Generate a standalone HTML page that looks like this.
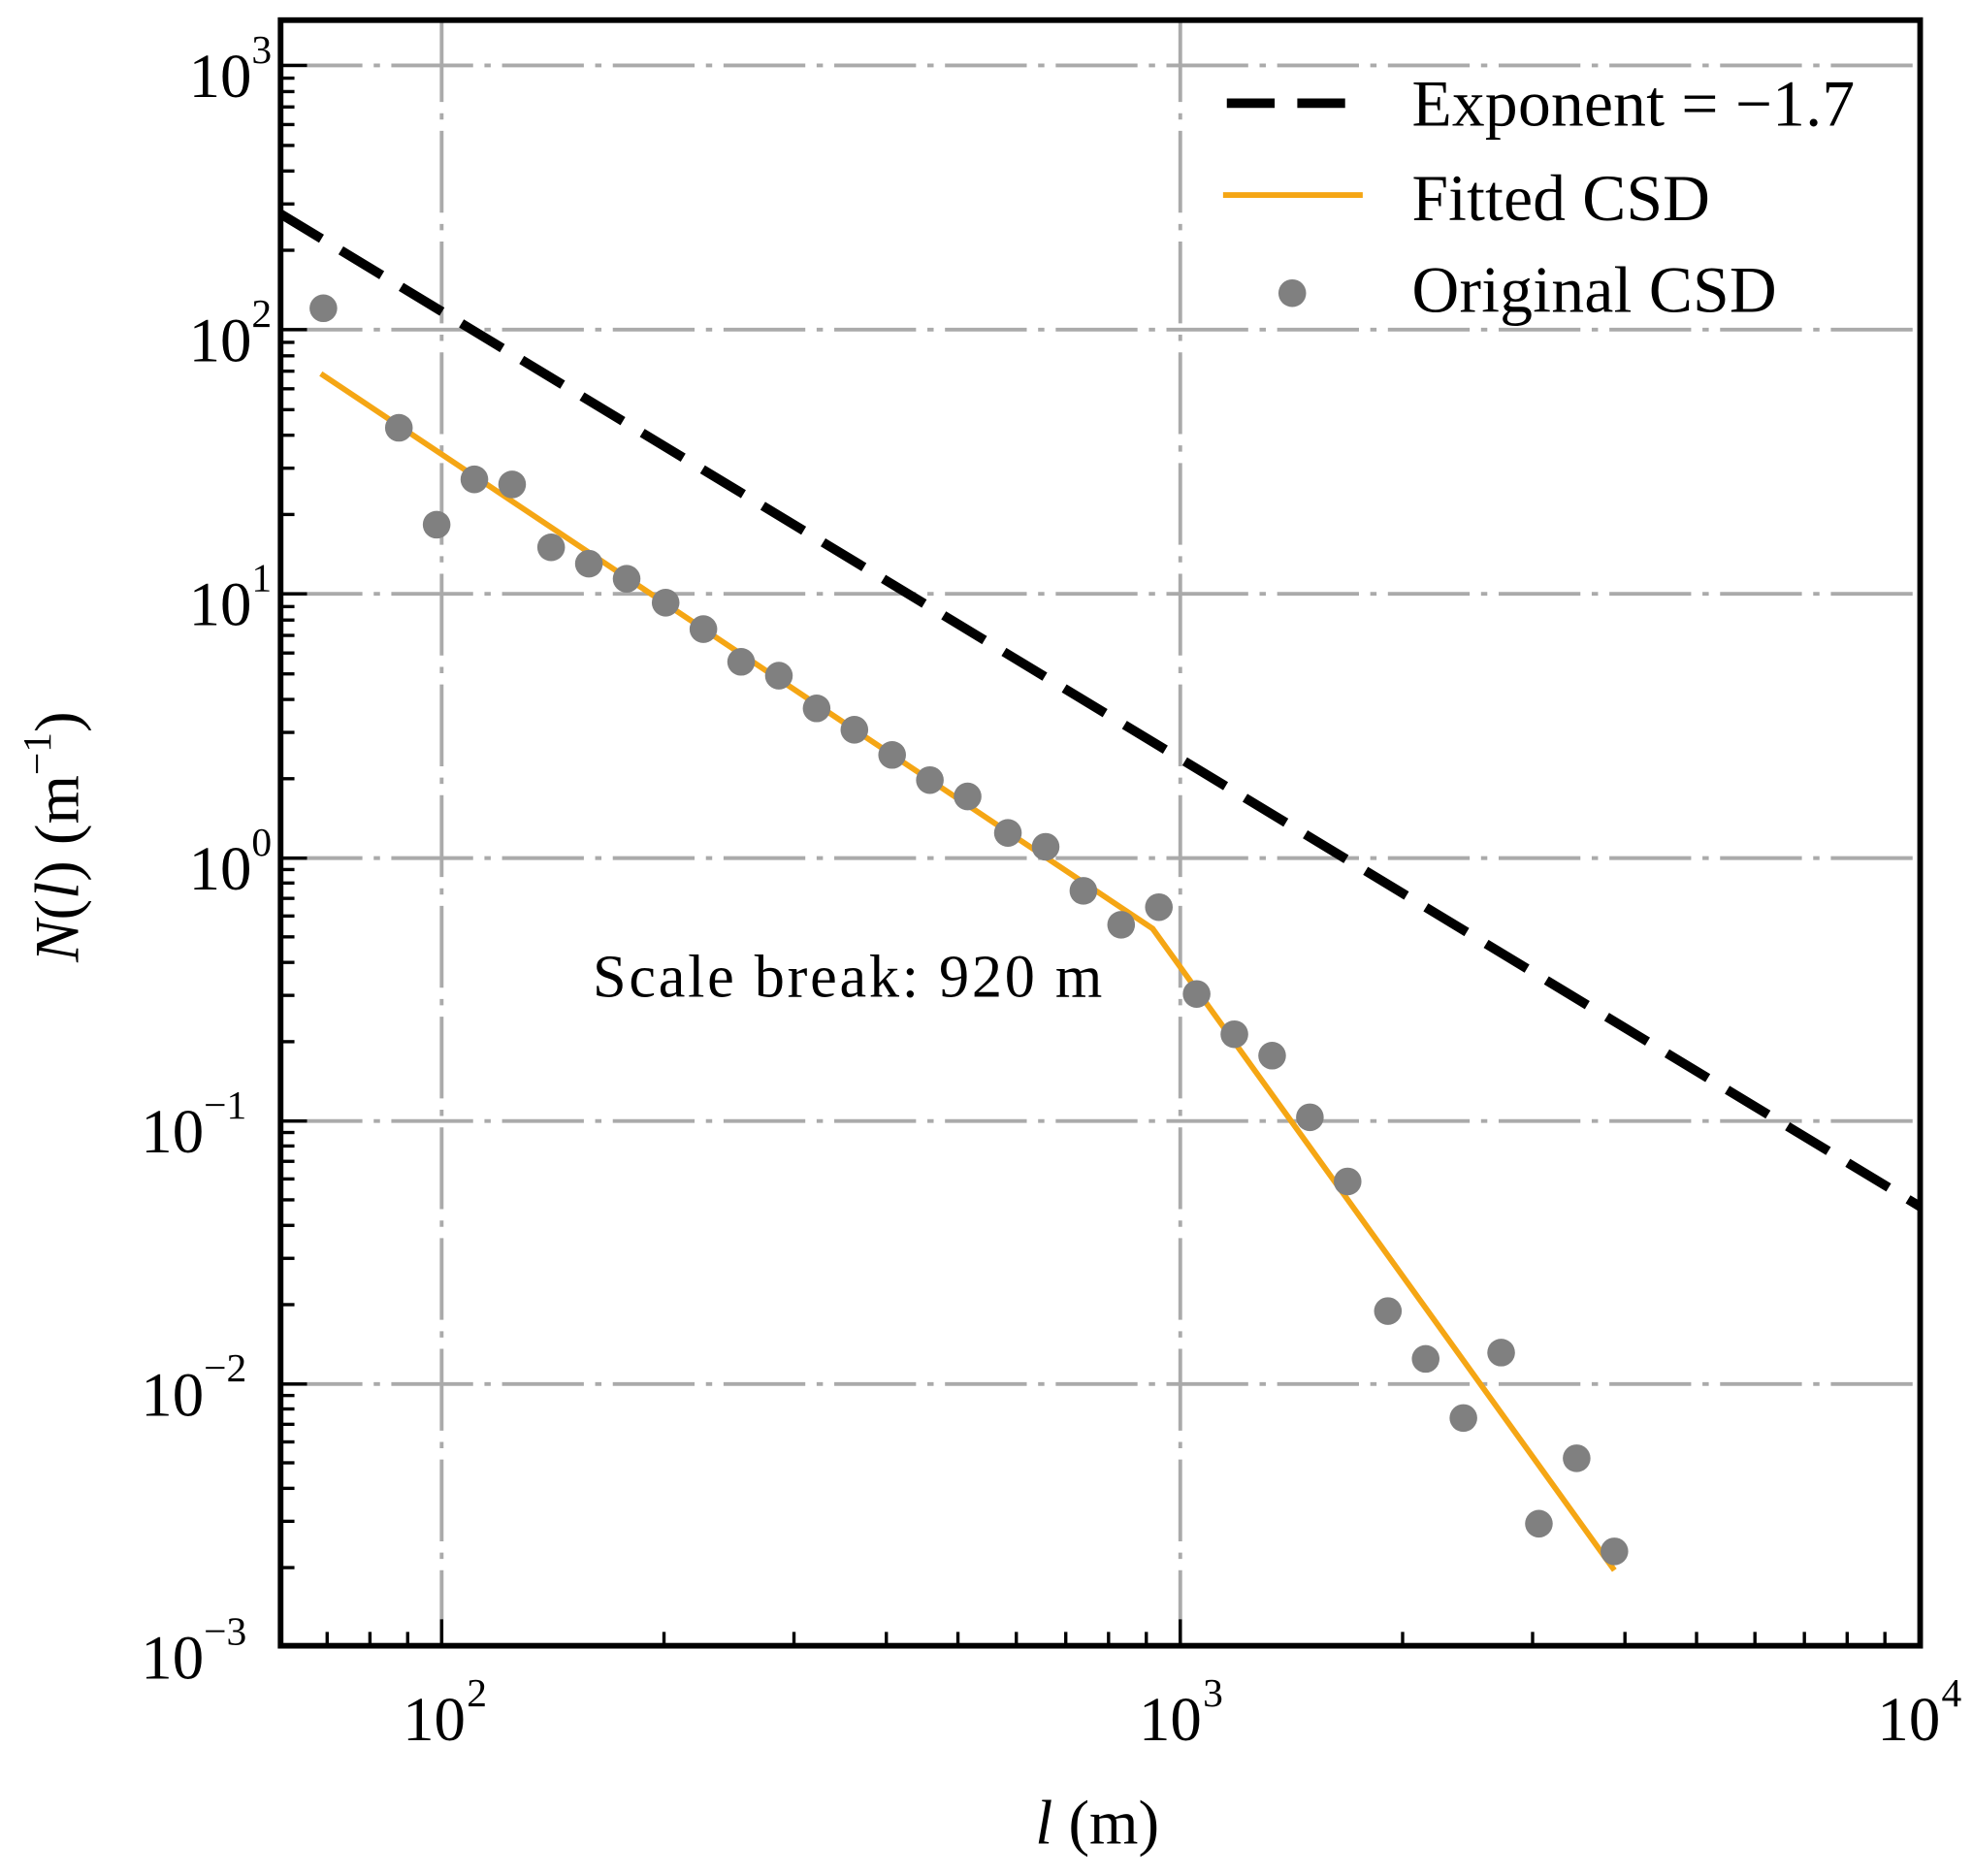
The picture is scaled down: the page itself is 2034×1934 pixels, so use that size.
<!DOCTYPE html>
<html><head><meta charset="utf-8"><style>html,body{margin:0;padding:0;background:#fff}svg{display:block}</style></head>
<body>
<svg width="2034" height="1934" viewBox="0 0 1568 1491" preserveAspectRatio="none" xmlns="http://www.w3.org/2000/svg" font-family="Liberation Serif, serif">
<defs>
<g id="ym" stroke="#000" stroke-width="2.6">
<line x1="223" y1="-63.1" x2="234" y2="-63.1"/><line x1="223" y1="-99.9" x2="234" y2="-99.9"/><line x1="223" y1="-126.1" x2="234" y2="-126.1"/><line x1="223" y1="-146.4" x2="234" y2="-146.4"/><line x1="223" y1="-163" x2="234" y2="-163"/><line x1="223" y1="-177" x2="234" y2="-177"/><line x1="223" y1="-189.2" x2="234" y2="-189.2"/><line x1="223" y1="-199.9" x2="234" y2="-199.9"/>
</g>
<g id="xm" stroke="#000" stroke-width="2.6">
<line x1="176.7" y1="1308" x2="176.7" y2="1297"/><line x1="280" y1="1308" x2="280" y2="1297"/><line x1="353.4" y1="1308" x2="353.4" y2="1297"/><line x1="410.3" y1="1308" x2="410.3" y2="1297"/><line x1="456.7" y1="1308" x2="456.7" y2="1297"/><line x1="496" y1="1308" x2="496" y2="1297"/><line x1="530" y1="1308" x2="530" y2="1297"/><line x1="560" y1="1308" x2="560" y2="1297"/>
</g>
</defs>
<g stroke="#aaaaaa" stroke-width="3" stroke-dasharray="65 9 5 9" fill="none">
<line x1="351" y1="16" x2="351" y2="1308"/>
<line x1="938" y1="16" x2="938" y2="1308"/>
<line x1="223" y1="52" x2="1526" y2="52"/>
<line x1="223" y1="262" x2="1526" y2="262"/>
<line x1="223" y1="472" x2="1526" y2="472"/>
<line x1="223" y1="682" x2="1526" y2="682"/>
<line x1="223" y1="891" x2="1526" y2="891"/>
<line x1="223" y1="1100" x2="1526" y2="1100"/>
</g>
<use href="#ym" transform="translate(0,1309)"/><use href="#ym" transform="translate(0,1100)"/><use href="#ym" transform="translate(0,891)"/><use href="#ym" transform="translate(0,682)"/><use href="#ym" transform="translate(0,472)"/><use href="#ym" transform="translate(0,262)"/>
<use href="#xm" transform="translate(351,0)"/><use href="#xm" transform="translate(938,0)"/>
<g stroke="#000" stroke-width="2.6">
<line x1="260" y1="1308" x2="260" y2="1297"/><line x1="294" y1="1308" x2="294" y2="1297"/><line x1="324" y1="1308" x2="324" y2="1297"/>
<line x1="351" y1="1308" x2="351" y2="1287"/><line x1="938" y1="1308" x2="938" y2="1287"/>
<line x1="223" y1="52" x2="244" y2="52"/><line x1="223" y1="262" x2="244" y2="262"/><line x1="223" y1="472" x2="244" y2="472"/><line x1="223" y1="682" x2="244" y2="682"/><line x1="223" y1="891" x2="244" y2="891"/><line x1="223" y1="1100" x2="244" y2="1100"/>
</g>
<line x1="223" y1="170" x2="1526" y2="959" stroke="#000" stroke-width="7.5" stroke-dasharray="38 18"/>
<polyline points="255,297 916,738 1283,1248" stroke="#f5a614" stroke-width="4.5" fill="none"/>
<g fill="#808080">
<circle cx="257" cy="245" r="11"/><circle cx="317" cy="340" r="11"/><circle cx="347" cy="417" r="11"/><circle cx="377" cy="381" r="11"/><circle cx="407" cy="385" r="11"/><circle cx="438" cy="435" r="11"/><circle cx="468" cy="448" r="11"/><circle cx="498" cy="460" r="11"/><circle cx="529" cy="479" r="11"/><circle cx="559" cy="500" r="11"/><circle cx="589" cy="526" r="11"/><circle cx="619" cy="537" r="11"/><circle cx="649" cy="563" r="11"/><circle cx="679" cy="580" r="11"/><circle cx="709" cy="600" r="11"/><circle cx="739" cy="620" r="11"/><circle cx="769" cy="633" r="11"/><circle cx="801" cy="662" r="11"/><circle cx="831" cy="673" r="11"/><circle cx="861" cy="708" r="11"/><circle cx="891" cy="735" r="11"/><circle cx="921" cy="721" r="11"/><circle cx="951" cy="790" r="11"/><circle cx="981" cy="822" r="11"/><circle cx="1011" cy="839" r="11"/><circle cx="1041" cy="888" r="11"/><circle cx="1071" cy="939" r="11"/><circle cx="1103" cy="1042" r="11"/><circle cx="1133" cy="1080" r="11"/><circle cx="1163" cy="1127" r="11"/><circle cx="1193" cy="1075" r="11"/><circle cx="1223" cy="1211" r="11"/><circle cx="1253" cy="1159" r="11"/><circle cx="1283" cy="1233" r="11"/>
</g>
<rect x="223" y="16" width="1303" height="1292" fill="none" stroke="#000" stroke-width="4.5"/>
<g font-size="50" fill="#000">
<text x="200" y="77" text-anchor="end">10</text><text x="200" y="50" font-size="32">3</text>
<text x="200" y="287" text-anchor="end">10</text><text x="200" y="260" font-size="32">2</text>
<text x="200" y="497" text-anchor="end">10</text><text x="200" y="470" font-size="32">1</text>
<text x="200" y="707" text-anchor="end">10</text><text x="200" y="680" font-size="32">0</text>
<text x="162" y="916" text-anchor="end">10</text><text x="162" y="889" font-size="32">−1</text>
<text x="162" y="1125" text-anchor="end">10</text><text x="162" y="1098" font-size="32">−2</text>
<text x="162" y="1334" text-anchor="end">10</text><text x="162" y="1307" font-size="32">−3</text>
<text x="320" y="1383">10</text><text x="371" y="1356" font-size="32">2</text>
<text x="905" y="1383">10</text><text x="956" y="1356" font-size="32">3</text>
<text x="1492" y="1383">10</text><text x="1543" y="1356" font-size="32">4</text>
<text x="872" y="1465" text-anchor="middle"><tspan font-style="italic">l</tspan> (m)</text>
<text transform="translate(62,665) rotate(-90)" text-anchor="middle"><tspan font-style="italic">N</tspan>(<tspan font-style="italic">l</tspan>) (m<tspan font-size="32" dy="-22">−1</tspan><tspan dy="22">)</tspan></text>
<text x="471" y="792" font-size="48" textLength="405">Scale break: 920 m</text>
</g>
<g font-size="52" fill="#000">
<line x1="975" y1="82" x2="1080" y2="82" stroke="#000" stroke-width="7.5" stroke-dasharray="38 18"/>
<text x="1122" y="100" textLength="352">Exponent = −1.7</text>
<line x1="972" y1="155" x2="1083" y2="155" stroke="#f5a614" stroke-width="4.5"/>
<text x="1122" y="175" textLength="237">Fitted CSD</text>
<circle cx="1027" cy="233" r="11" fill="#808080"/>
<text x="1122" y="248" textLength="290">Original CSD</text>
</g>
</svg>
</body></html>
